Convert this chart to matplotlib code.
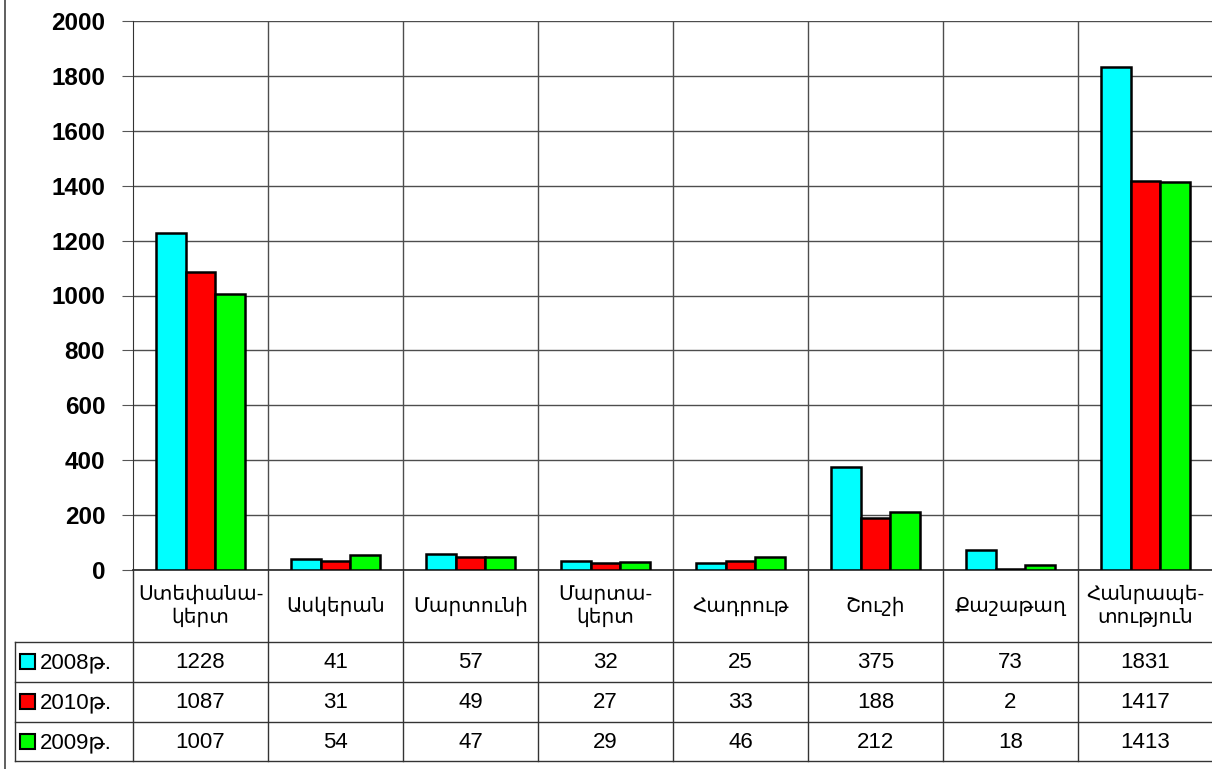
import numpy as np
import matplotlib
matplotlib.use('Agg')
import matplotlib.pyplot as plt
from matplotlib.patches import Rectangle

plt.rcParams['font.family'] = ['Liberation Sans', 'DejaVu Sans']

categories = ['Ստեփանա-\nկերտ', 'Ասկերան', 'Մարտունի', 'Մարտա-\nկերտ',
              'Հադրութ', 'Շուշի', 'Քաշաթաղ', 'Հանրապե-\nտություն']
series = ['2008թ.', '2010թ.', '2009թ.']
v2008 = [1228, 41, 57, 32, 25, 375, 73, 1831]
v2010 = [1087, 31, 49, 27, 33, 188, 2, 1417]
v2009 = [1007, 54, 47, 29, 46, 212, 18, 1413]
values = [v2008, v2010, v2009]
colors = ['#00ffff', '#ff0000', '#00ff00']

W, H = 1212, 769
fig = plt.figure(figsize=(W / 100, H / 100), dpi=100)

# plot area (pixels)
L, T, B = 133, 21, 570
CW = 135  # column width
R = L + CW * len(categories)
ax = fig.add_axes([L / W, 1 - B / H, (R - L) / W, (B - T) / H])

x = np.arange(len(categories))
bw = 0.222
for i, (vals, c) in enumerate(zip(values, colors)):
    ax.bar(x + (i - 1) * bw, vals, bw, color=c, edgecolor='black',
           linewidth=1.8, zorder=3)

ax.set_xlim(-0.5, len(categories) - 0.5)
ax.set_ylim(0, 2000)
ax.set_yticks(np.arange(0, 2001, 200))
ax.set_xticks([])
ax.grid(axis='y', color='#4d4d4d', linewidth=1)
ax.set_axisbelow(True)
for k in range(1, len(categories)):
    ax.axvline(k - 0.5, color='#4d4d4d', linewidth=1, zorder=1)
for s in ['top', 'right']:
    ax.spines[s].set_visible(False)
ax.spines['left'].set_color('#333333')
ax.spines['bottom'].set_color('#222222')
ax.spines['bottom'].set_linewidth(1.2)
ax.tick_params(axis='y', length=8, color='#555555', pad=12)
for lab in ax.get_yticklabels():
    lab.set_fontsize(17.5)
    lab.set_fontweight('bold')

# data table under the plot
tax = fig.add_axes([0, 0, 1, 1])
tax.set_xlim(0, W)
tax.set_ylim(H, 0)
tax.axis('off')

rows = [570, 642, 682, 722, 761]
legend_left = 15
lc = '#333333'
for yy in rows[1:]:
    tax.plot([legend_left, W], [yy, yy], color=lc, lw=1)
tax.plot([legend_left, legend_left], [rows[1], rows[-1]], color=lc, lw=1)
for k in range(len(categories)):
    xx = L + k * CW
    tax.plot([xx, xx], [rows[0], rows[-1]], color=lc, lw=1)

for k, cat in enumerate(categories):
    cx = L + k * CW + CW / 2
    tax.text(cx, (rows[0] + rows[1]) / 2, cat, ha='center', va='center',
             fontsize=14.5, linespacing=1.25)

for r, (name, vals, c) in enumerate(zip(series, values, colors)):
    cy = (rows[r + 1] + rows[r + 2]) / 2
    tax.add_patch(Rectangle((20, cy - 8), 15, 15, facecolor=c,
                            edgecolor='black', lw=1.5))
    tax.text(40, cy + 1, name, ha='left', va='center', fontsize=16)
    for k, v in enumerate(vals):
        cx = L + k * CW + CW / 2
        tax.text(cx, cy + 1, str(v), ha='center', va='center', fontsize=16)

# outer border line on the left
tax.plot([5, 5], [0, H], color='#444444', lw=1.2)

fig.savefig('out.png', dpi=100)
